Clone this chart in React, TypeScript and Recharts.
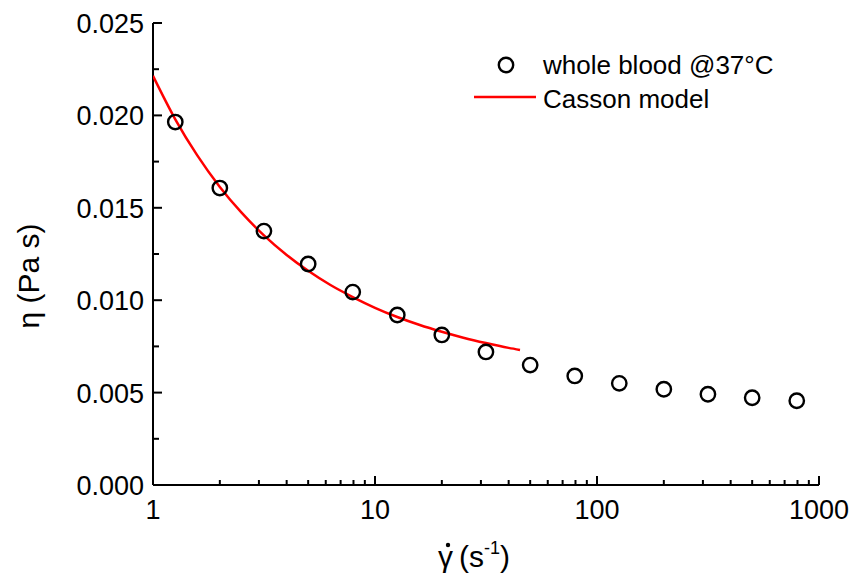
import { ScatterChart, Scatter, XAxis, YAxis, Legend } from "recharts";

// measured points (shear rate s^-1, viscosity Pa s)
const shearRate = [1.26, 2, 3.16, 5, 7.94, 12.6, 20, 31.6, 50, 79.4, 126, 200, 316, 500, 794];
const viscosity = [
  0.01964, 0.01607, 0.01374, 0.01196, 0.01044, 0.0092, 0.00812, 0.0072, 0.00649, 0.0059,
  0.0055, 0.00518, 0.00491, 0.00472, 0.00456,
];

// Casson model curve
const modelRate = [1, 1.26, 1.58, 2, 2.5, 3.16, 4, 5, 6.3, 7.94, 10, 12.6, 15.8, 20, 25, 31.6, 40, 45];
const modelVisc = [
  0.02214, 0.01979, 0.01785, 0.01613, 0.01475, 0.01351, 0.01245, 0.01159, 0.01082, 0.01017,
  0.00959, 0.00909, 0.00867, 0.00829, 0.00797, 0.00768, 0.00742, 0.00731,
];

const xTicks = [
  1, 2, 3, 4, 5, 6, 7, 8, 9, 10, 20, 30, 40, 50, 60, 70, 80, 90, 100, 200, 300, 400, 500, 600, 700,
  800, 900, 1000,
];
const xLabels = [1, 10, 100, 1000];
const yTicks = [0, 0.0025, 0.005, 0.0075, 0.01, 0.0125, 0.015, 0.0175, 0.02, 0.0225, 0.025];

const bloodData = shearRate.map((x, i) => ({ x, eta: viscosity[i] }));
const modelData = modelRate.map((x, i) => ({ x, eta: modelVisc[i] }));

const FONT = "'Liberation Sans', Arial, sans-serif";

const isMajorY = (v: number) => Math.round(v / 0.0025) % 2 === 0;

const BottomTick = (props: any) => {
  const { x, y, payload } = props;
  const major = xLabels.includes(payload.value);
  return (
    <g>
      <line x1={x} x2={x} y1={y} y2={y - (major ? 9 : 5)} stroke="#000" strokeWidth={2} />
      {major && (
        <text x={x} y={y + 34} textAnchor="middle" fontSize={27} fontFamily={FONT} fill="#000">
          {payload.value}
        </text>
      )}
    </g>
  );
};

const TopTick = (props: any) => {
  const { x, y, payload } = props;
  const major = xLabels.includes(payload.value);
  return <line x1={x} x2={x} y1={y} y2={y + (major ? 9 : 5)} stroke="#000" strokeWidth={2} />;
};

const LeftTick = (props: any) => {
  const { x, y, payload } = props;
  const major = isMajorY(payload.value);
  return (
    <g>
      <line x1={x} x2={x + (major ? 9 : 6)} y1={y} y2={y} stroke="#000" strokeWidth={2} />
      {major && (
        <text x={x - 9} y={y + 10} textAnchor="end" fontSize={27} fontFamily={FONT} fill="#000">
          {payload.value.toFixed(3)}
        </text>
      )}
    </g>
  );
};

const RightTick = (props: any) => {
  const { x, y, payload } = props;
  const major = isMajorY(payload.value);
  return <line x1={x} x2={x - (major ? 9 : 6)} y1={y} y2={y} stroke="#000" strokeWidth={2} />;
};

const Ring = (props: any) => {
  const { cx, cy } = props;
  return <circle cx={cx} cy={cy} r={7.2} fill="none" stroke="#000" strokeWidth={2.4} />;
};

const NoDot = () => <g />;

const LegendBox = () => (
  <svg width={340} height={70} style={{ overflow: "visible", display: "block" }}>
    <circle cx={36} cy={20} r={7.2} fill="none" stroke="#000" strokeWidth={2.4} />
    <text x={73} y={29} fontSize={26} fontFamily={FONT} fill="#000">
      whole blood @37°C
    </text>
    <line x1={4} x2={66} y1={52} y2={52} stroke="#ff0000" strokeWidth={2.5} />
    <text x={73} y={63} fontSize={26} fontFamily={FONT} fill="#000">
      Casson model
    </text>
  </svg>
);

export default function App() {
  return (
    <div style={{ position: "absolute", left: 0, top: 0, background: "#fff" }}>
      <ScatterChart width={853} height={585} margin={{ top: 23, right: 34, bottom: 40, left: 53 }}>
        <XAxis
          xAxisId="bottom"
          dataKey="x"
          type="number"
          scale="log"
          domain={[1, 1000]}
          ticks={xTicks}
          interval={0}
          allowDataOverflow
          height={60}
          tickSize={0}
          tickMargin={0}
          tickLine={false}
          tick={<BottomTick />}
          axisLine={{ stroke: "#000", strokeWidth: 2 }}
          label={{
            content: () => (
              <g fontFamily={FONT} fill="#000">
                <text x={438} y={567} fontSize={30}>
                  γ
                </text>
                <circle cx={448} cy={545} r={2.2} fill="#000" />
                <text x={459} y={567} fontSize={30}>
                  (s
                  <tspan dy={-13} fontSize={18}>
                    -1
                  </tspan>
                  <tspan dy={13}>)</tspan>
                </text>
              </g>
            ),
          }}
        />
        <XAxis
          xAxisId="top"
          orientation="top"
          dataKey="x"
          type="number"
          scale="log"
          domain={[1, 1000]}
          ticks={xTicks}
          interval={0}
          allowDataOverflow
          height={0}
          tickSize={0}
          tickMargin={0}
          tickLine={false}
          tick={<TopTick />}
          axisLine={{ stroke: "#000", strokeWidth: 2 }}
        />
        <YAxis
          yAxisId="left"
          dataKey="eta"
          type="number"
          domain={[0, 0.025]}
          ticks={yTicks}
          interval={0}
          allowDataOverflow
          width={100}
          tickSize={0}
          tickMargin={0}
          tickLine={false}
          tick={<LeftTick />}
          axisLine={{ stroke: "#000", strokeWidth: 2 }}
          label={{
            content: () => (
              <text
                x={39}
                y={276}
                transform="rotate(-90, 39, 276)"
                textAnchor="middle"
                fontSize={30}
                fontFamily={FONT}
                fill="#000"
              >
                η (Pa s)
              </text>
            ),
          }}
        />
        <YAxis
          yAxisId="right"
          orientation="right"
          dataKey="eta"
          type="number"
          domain={[0, 0.025]}
          ticks={yTicks}
          interval={0}
          allowDataOverflow
          width={0}
          tickSize={0}
          tickMargin={0}
          tickLine={false}
          tick={<RightTick />}
          axisLine={{ stroke: "#000", strokeWidth: 2 }}
        />
        <Legend
          verticalAlign="middle"
          align="center"
          layout="vertical"
          wrapperStyle={{ position: "absolute", left: 470, top: 45, width: 340, height: 70 }}
          content={<LegendBox />}
        />
        <Scatter
          name="Casson model"
          data={modelData}
          xAxisId="bottom"
          yAxisId="left"
          line={{ stroke: "#ff0000", strokeWidth: 2.5 }}
          lineJointType="monotoneX"
          shape={<NoDot />}
          isAnimationActive={false}
        />
        <Scatter
          name="whole blood @37°C"
          data={bloodData}
          xAxisId="bottom"
          yAxisId="left"
          shape={<Ring />}
          isAnimationActive={false}
        />
      </ScatterChart>
    </div>
  );
}
